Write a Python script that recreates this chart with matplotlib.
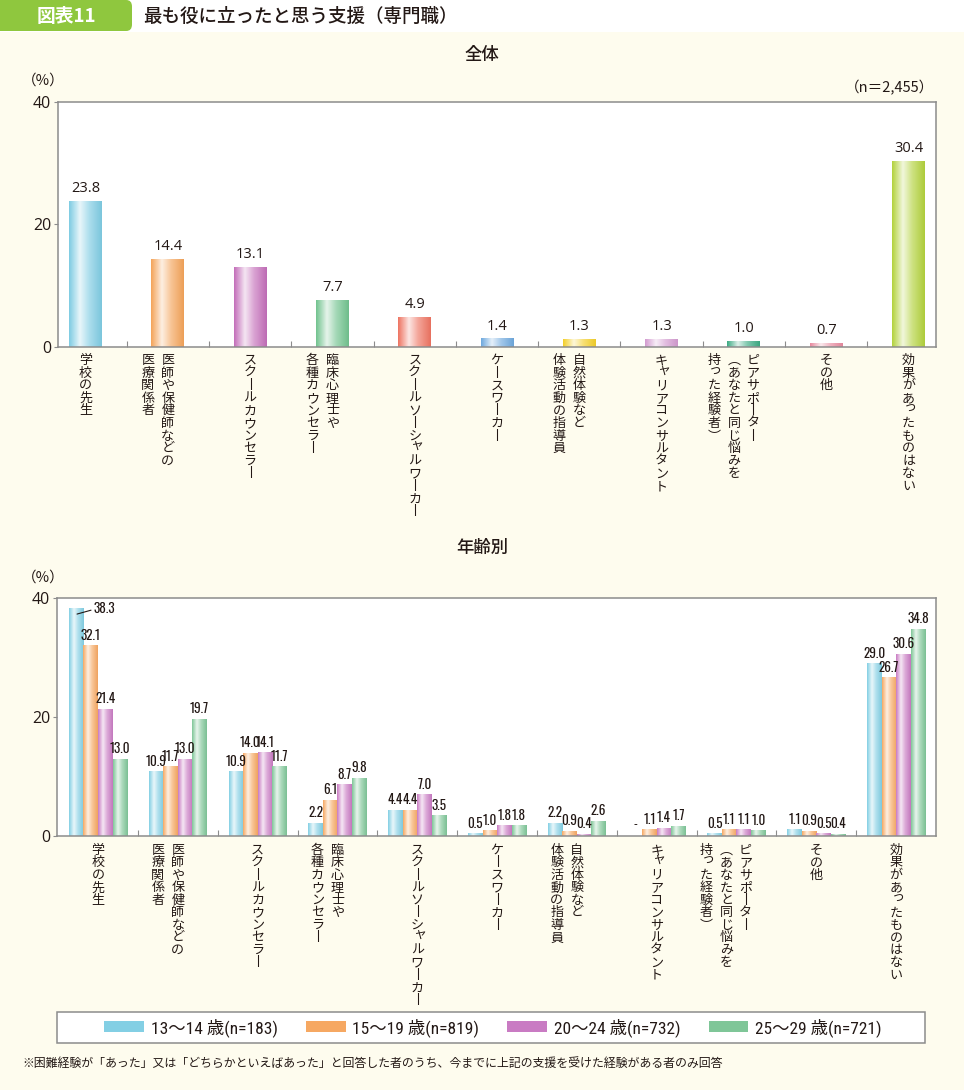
import numpy as np
import matplotlib
matplotlib.use('Agg')
import matplotlib.pyplot as plt
from matplotlib.colors import LinearSegmentedColormap, to_rgb
from matplotlib.patches import Rectangle, FancyBboxPatch

# ---------------- data ----------------
categories = [
    ['学校の先生'],
    ['医師や保健師などの', '医療関係者'],
    ['スクールカウンセラー'],
    ['臨床心理士や', '各種カウンセラー'],
    ['スクールソーシャルワーカー'],
    ['ケースワーカー'],
    ['自然体験など', '体験活動の指導員'],
    ['キャリアコンサルタント'],
    ['ピアサポーター', '（あなたと同じ悩みを', '持った経験者）'],
    ['その他'],
    ['効果があったものはない'],
]
overall = [23.8, 14.4, 13.1, 7.7, 4.9, 1.4, 1.3, 1.3, 1.0, 0.7, 30.4]
overall_colors = ['#7fcce3', '#f4a45a', '#c46fba', '#72c38f', '#ee7462', '#6fa9de',
                  '#f3cf2a', '#d39bd0', '#3dab84', '#e88a9e', '#b3d23d']

age_labels = ['13～14 歳(n=183)', '15～19 歳(n=819)', '20～24 歳(n=732)', '25～29 歳(n=721)']
age_13_14 = [38.3, 10.9, 10.9, 2.2, 4.4, 0.5, 2.2, np.nan, 0.5, 1.1, 29.0]
age_15_19 = [32.1, 11.7, 14.0, 6.1, 4.4, 1.0, 0.9, 1.1, 1.1, 0.9, 26.7]
age_20_24 = [21.4, 13.0, 14.1, 8.7, 7.0, 1.8, 0.4, 1.4, 1.1, 0.5, 30.6]
age_25_29 = [13.0, 19.7, 11.7, 9.8, 3.5, 1.8, 2.6, 1.7, 1.0, 0.4, 34.8]
age_colors = ['#83cfe4', '#f6a862', '#c97bc3', '#7fc698']

title = '最も役に立ったと思う支援（専門職）'
badge = '図表11'
note = '※困難経験が「あった」又は「どちらかといえばあった」と回答した者のうち、今までに上記の支援を受けた経験がある者のみ回答'

# ---------------- style ----------------
JP = ['Noto Sans CJK JP', 'DejaVu Sans']
NUM = ['Open Sans', 'DejaVu Sans']
NARROW = ['Oswald', 'Barlow Condensed', 'Roboto Condensed', 'DejaVu Sans']
LEGF = ['Roboto Condensed', 'Noto Sans CJK JP', 'DejaVu Sans']
TXT = '#231815'
GRAY = '#8c8c8c'
CREAM = '#fefcee'
W, H = 964, 1090
plt.rcParams['font.family'] = JP

fig = plt.figure(figsize=(W / 100, H / 100), dpi=100, facecolor=CREAM)

# header band
fig.patches.append(Rectangle((0, 1 - 32 / H), 1, 32 / H, transform=fig.transFigure,
                             facecolor='white', edgecolor='none', zorder=0))
fig.patches.append(FancyBboxPatch((-6 / W, 1 - 31 / H), 138 / W, 31 / H,
                                  boxstyle='round,pad=0,rounding_size=0.006',
                                  transform=fig.transFigure, facecolor='#8fc73e',
                                  edgecolor='none', zorder=1))
fig.text(66 / W, 1 - 16 / H, badge, color='white', fontsize=13.5, weight='bold',
         ha='center', va='center', family=JP)
fig.text(143 / W, 1 - 16 / H, title, color=TXT, fontsize=13.3, weight='medium',
         ha='left', va='center', family=JP)

SMALL = set('ァィゥェォッャュョっゃゅょ')
VMAP = {'ー': '丨', '（': '︵', '）': '︶'}


def vlabel(ax, x, lines, offsets, top_px, pitch=12.6, size=9.4):
    spx = size / 0.72
    for line, dx in zip(lines, offsets):
        for i, ch in enumerate(line):
            c = VMAP.get(ch, ch)
            ddx, ddy = (0.15 * spx, 0.17 * spx) if ch in SMALL else (0, 0)
            base = top_px + (i + 1) * pitch - 0.12 * spx - ddy
            ax.annotate(c, xy=(x, 0), xycoords=('data', 'axes fraction'),
                        xytext=((dx + ddx) * 0.72, -base * 0.72), textcoords='offset points',
                        ha='center', va='baseline', fontsize=size, family=JP, color=TXT,
                        annotation_clip=False)


def grad_cmap(color):
    c = np.array(to_rgb(color))
    light = c + (1 - c) * 0.82
    mid = c + (1 - c) * 0.35
    return LinearSegmentedColormap.from_list(
        'g', [(0, c), (0.33, light), (0.62, mid), (1.0, c * 0.97)])


def grad_bar(ax, rect, color):
    x, y = rect.get_x(), rect.get_y()
    w, h = rect.get_width(), rect.get_height()
    if h <= 0:
        return
    im = ax.imshow(np.linspace(0, 1, 64)[None, :], extent=(x, x + w, y, y + h),
                   cmap=grad_cmap(color), aspect='auto', interpolation='bilinear', zorder=2.5)
    im.set_clip_path(rect)


def style_axes(ax, xlim):
    ax.set_facecolor('white')
    for s in ax.spines.values():
        s.set_color(GRAY)
        s.set_linewidth(1.1)
    ax.set_ylim(0, 40)
    ax.set_xlim(*xlim)
    ax.set_yticks([0, 20, 40])
    ax.set_yticklabels(['0', '20', '40'], fontsize=11.5, family=NUM, color=TXT)
    ax.tick_params(axis='y', direction='out', length=3, color=GRAY, pad=2)
    ax.set_xticks(np.arange(len(categories) - 1) + 0.5)
    ax.set_xticklabels([])
    ax.tick_params(axis='x', direction='in', length=4, color=GRAY, width=0.8)


label_offsets = [[0], [0, -20], [0], [0, -20], [0], [0], [0, -20], [0], [9, -10, -30], [0], [0]]

# ---------------- top chart ----------------
ax1 = fig.add_axes([58 / W, 1 - 347 / H, 878 / W, 245 / H])
x = np.arange(len(overall))
bars = ax1.bar(x, overall, width=0.4, color=overall_colors, zorder=2)
for b, col in zip(bars, overall_colors):
    grad_bar(ax1, b, col)
for xi, v in zip(x, overall):
    ax1.annotate(f'{v:.1f}', xy=(xi, v), xytext=(0, 3.5), textcoords='offset points',
                 ha='center', va='bottom', fontsize=10.5, weight='medium', family=NUM, color=TXT)
style_axes(ax1, (-0.334, 10.334))
for xi, lines, offs in zip(x, categories, label_offsets):
    vlabel(ax1, xi, lines, offs, top_px=6)

fig.text(482 / W, 1 - 55 / H, '全体', fontsize=12.5, weight='medium', ha='center', va='center', color=TXT)
fig.text(43 / W, 1 - 81 / H, '（%）', fontsize=10.5, ha='center', va='center', color=TXT)
fig.text(934 / W, 1 - 88 / H, '（n＝2,455）', fontsize=10.5, ha='right', va='center', color=TXT)

# ---------------- bottom chart ----------------
ax2 = fig.add_axes([57 / W, 1 - 836 / H, 879 / W, 238 / H])
series = [age_13_14, age_15_19, age_20_24, age_25_29]
bw = 0.182
for k, (vals, col) in enumerate(zip(series, age_colors)):
    xs = x + (k - 1.5) * bw
    hv = np.nan_to_num(np.array(vals, dtype=float))
    bs = ax2.bar(xs, hv, width=bw, color=col, zorder=2)
    for b in bs:
        grad_bar(ax2, b, col)
    for xi, v in zip(xs, vals):
        if np.isnan(v):
            ax2.annotate('-', xy=(xi, 0), xytext=(0, 4), textcoords='offset points',
                         ha='center', va='bottom', fontsize=9, family=NARROW, color=TXT)
        elif k == 0 and xi < 0 and v > 35:
            ax2.annotate(f'{v:.1f}', xy=(xi + 0.01, v - 1.0), xytext=(xi + 0.22, v),
                         textcoords='data', ha='left', va='center', fontsize=9.5,
                         family=NARROW, color=TXT,
                         arrowprops=dict(arrowstyle='-', color=TXT, lw=0.8,
                                         shrinkA=0, shrinkB=0, relpos=(0, 0.4)))
        else:
            ax2.annotate(f'{v:.1f}', xy=(xi, v), xytext=(0, 2.5), textcoords='offset points',
                         ha='center', va='bottom', fontsize=9.5, family=NARROW, color=TXT)
style_axes(ax2, (-0.514, 10.5))
for xi, lines, offs in zip(x, categories, label_offsets):
    vlabel(ax2, xi, lines, offs, top_px=7, pitch=12.5)

fig.text(482 / W, 1 - 548 / H, '年齢別', fontsize=12.5, weight='medium', ha='center', va='center', color=TXT)
fig.text(43 / W, 1 - 578 / H, '（%）', fontsize=10.5, ha='center', va='center', color=TXT)

# ---------------- legend ----------------
fig.patches.append(Rectangle((57 / W, 1 - 1043 / H), 868 / W, 31 / H, transform=fig.transFigure,
                             facecolor='white', edgecolor=GRAY, linewidth=1.1, zorder=1))
handles = [Rectangle((0, 0), 1, 1, facecolor=c, edgecolor='none') for c in age_colors]
leg = fig.legend(handles, age_labels, loc='center', bbox_to_anchor=(493 / W, 1 - 1027.5 / H),
                 ncol=4, frameon=False, prop=dict(family=LEGF, size=12.5),
                 handlelength=2.3, handleheight=0.6, handletextpad=0.4, columnspacing=1.6)
for t in leg.get_texts():
    t.set_color(TXT)

fig.text(22 / W, 1 - 1063 / H, note, fontsize=8.6, ha='left', va='center', color=TXT, family=JP)

fig.savefig('out.png', dpi=100, facecolor=fig.get_facecolor())
